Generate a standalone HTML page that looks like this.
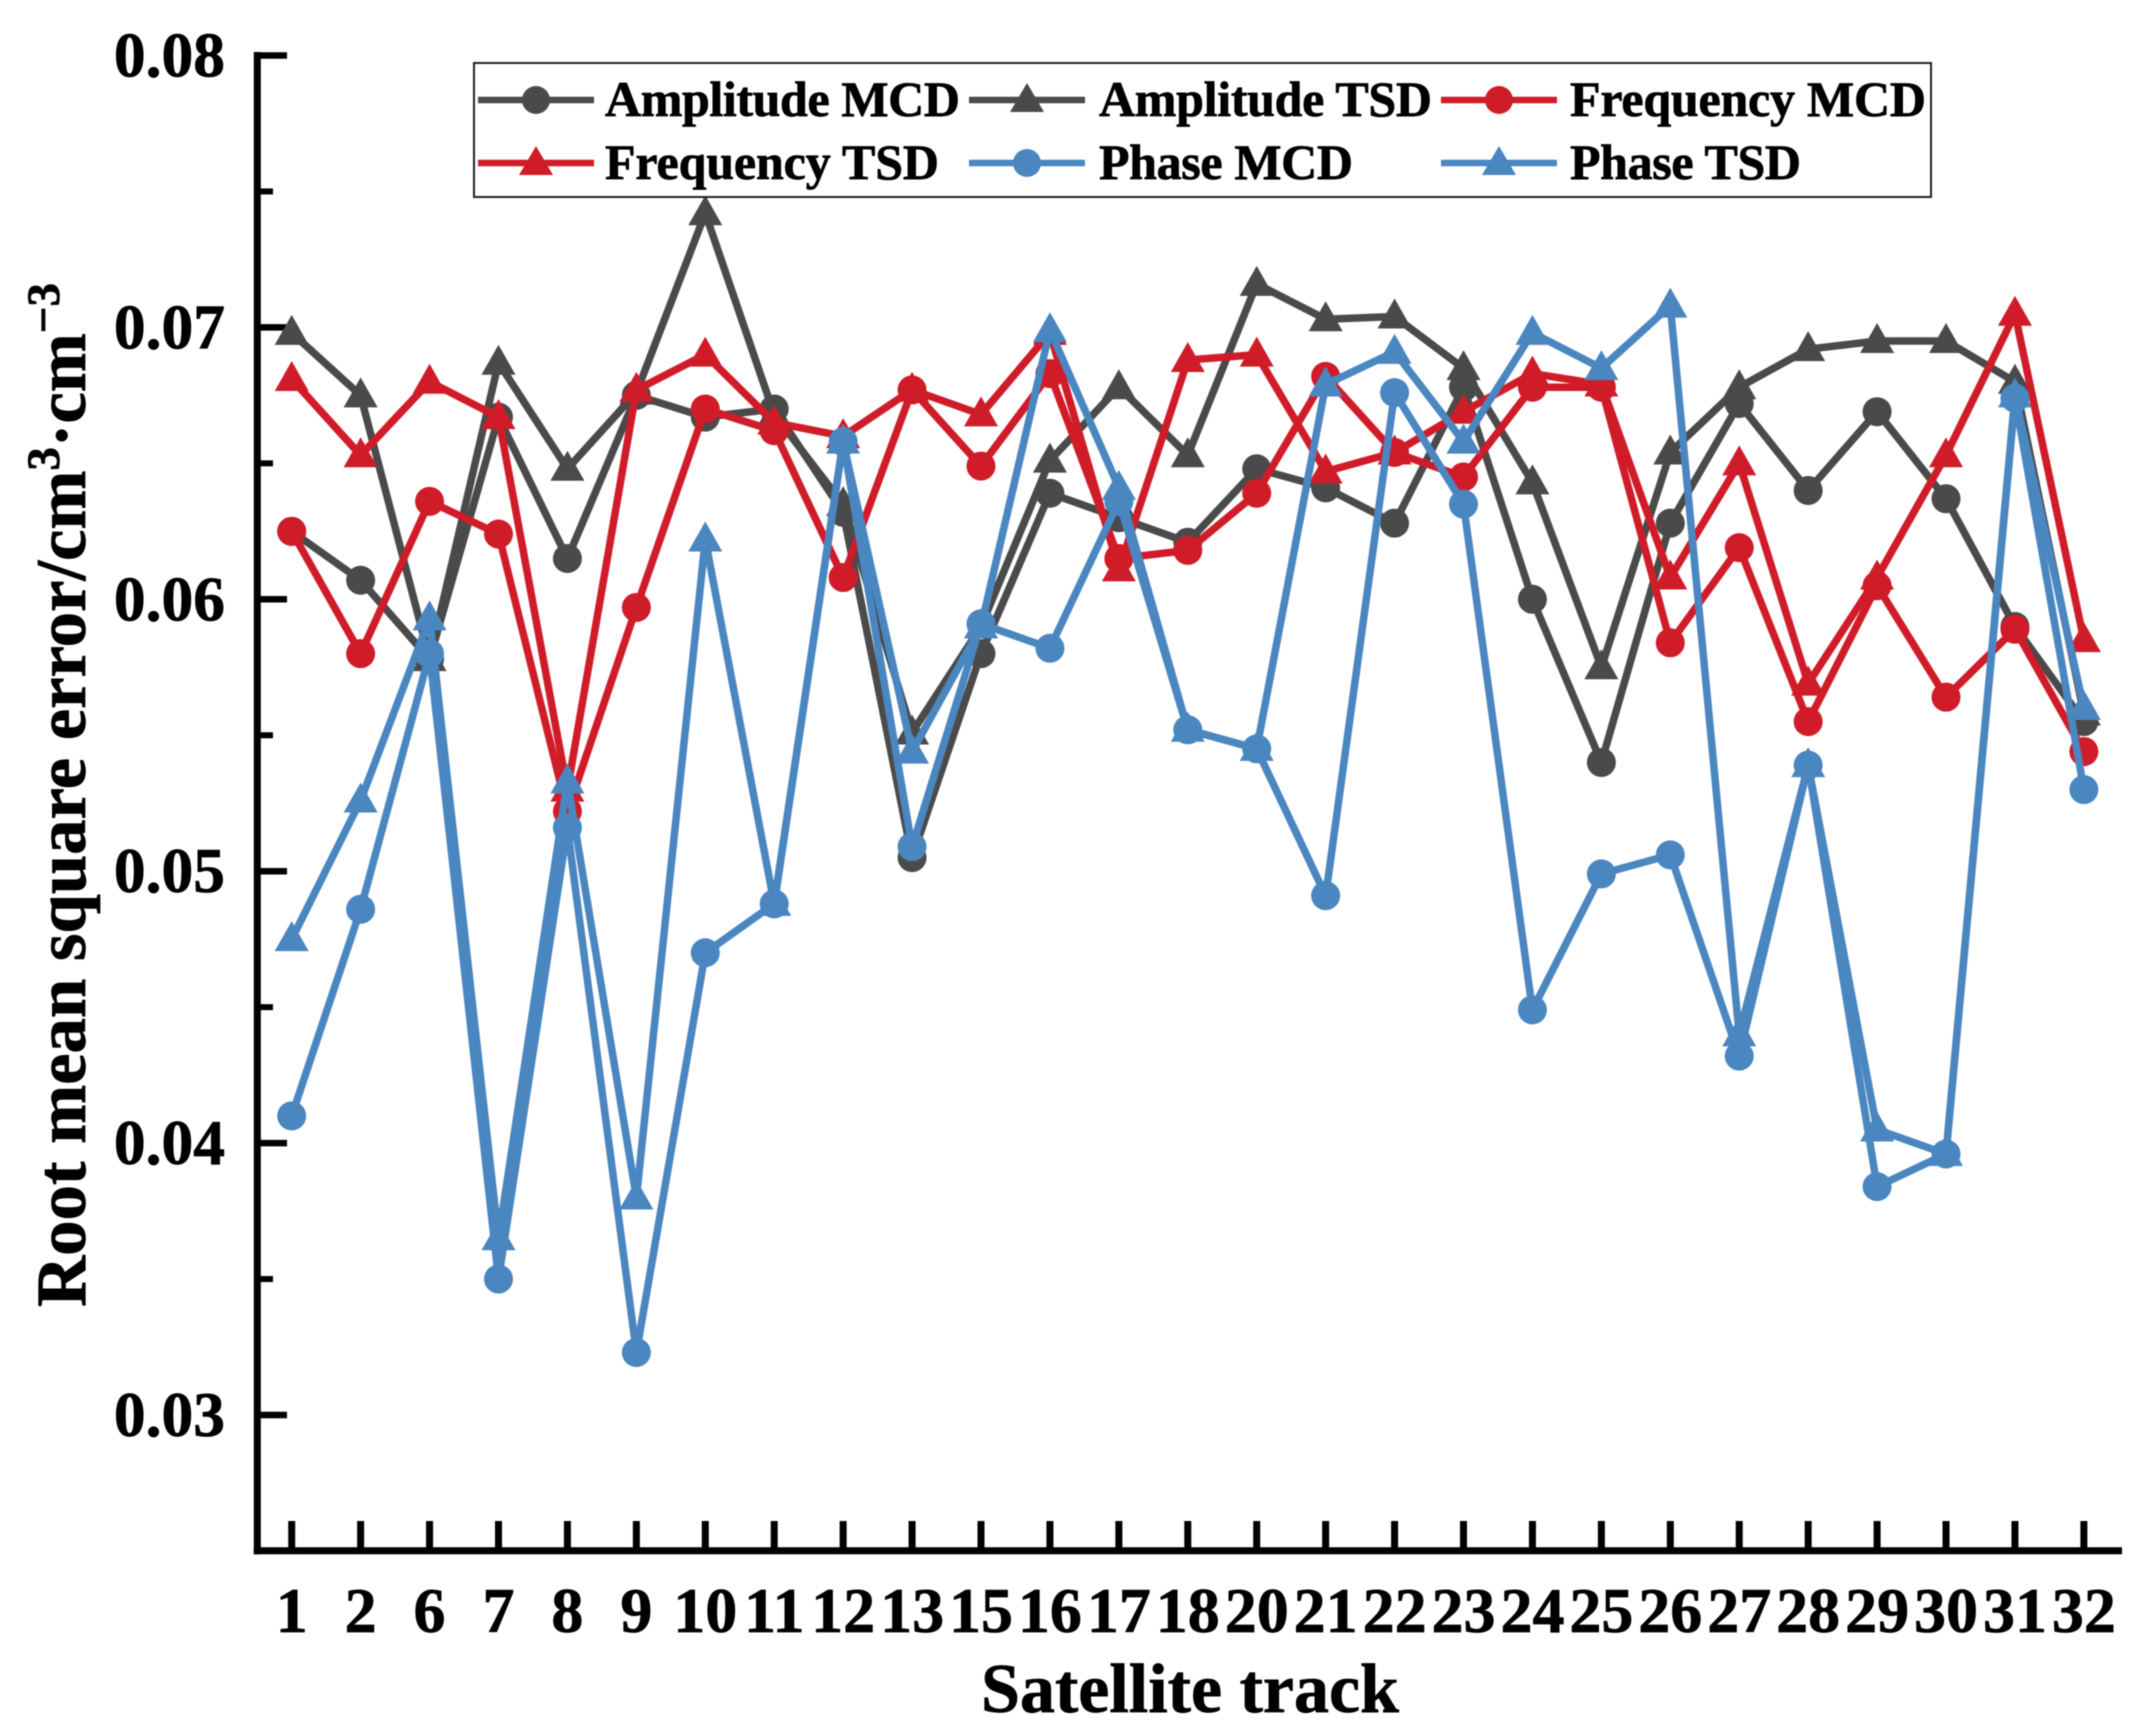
<!DOCTYPE html>
<html lang="en">
<head>
<meta charset="utf-8">
<title>Root mean square error by satellite track</title>
<style>
html,body{margin:0;padding:0;background:#fff;width:2147px;height:1733px;overflow:hidden}
svg{display:block;filter:blur(0.6px)}
text{font-family:"Liberation Serif",serif;font-weight:700;fill:#000;stroke:#000;stroke-width:0.7px}
</style>
</head>
<body>
<svg id="chart" xmlns="http://www.w3.org/2000/svg" width="2147" height="1733" viewBox="0 0 2147 1733">
  <rect x="0" y="0" width="2147" height="1733" fill="#fff"/>
  <g id="axes"></g>
  <g id="series"></g>
  <text transform="translate(85,1307) rotate(-90)" font-size="71" textLength="1024" lengthAdjust="spacing">Root mean square error/cm<tspan dy="-26" font-size="47">3</tspan><tspan dy="26">·cm</tspan><tspan dy="-26" font-size="47">−3</tspan></text>
  <text x="1190" y="1712" text-anchor="middle" font-size="70">Satellite track</text>
  <g>
    <rect x="474" y="63" width="1457" height="134" fill="#fff" stroke="#222" stroke-width="2"/>
    <g>
      <line x1="478" y1="100" x2="594" y2="100" stroke="#4a4a4a" stroke-width="6.5"/>
      <circle cx="536" cy="100" r="14" fill="#4a4a4a"/>
      <text x="605" y="116" font-size="50" textLength="355">Amplitude MCD</text>
    </g>
    <g>
      <line x1="969" y1="100" x2="1085" y2="100" stroke="#4a4a4a" stroke-width="6.5"/>
      <polygon points="1027,83 1044,112 1010,112" fill="#4a4a4a"/>
      <text x="1099" y="116" font-size="50" textLength="333">Amplitude TSD</text>
    </g>
    <g>
      <line x1="1441" y1="100" x2="1557" y2="100" stroke="#d01c29" stroke-width="6.5"/>
      <circle cx="1499" cy="100" r="14" fill="#d01c29"/>
      <text x="1570" y="116" font-size="50" textLength="356">Frequency MCD</text>
    </g>
    <g>
      <line x1="478" y1="163" x2="594" y2="163" stroke="#d01c29" stroke-width="6.5"/>
      <polygon points="536,146 553,175 519,175" fill="#d01c29"/>
      <text x="605" y="179" font-size="50" textLength="334">Frequency TSD</text>
    </g>
    <g>
      <line x1="969" y1="163" x2="1085" y2="163" stroke="#4a86c0" stroke-width="6.5"/>
      <circle cx="1027" cy="163" r="14" fill="#4a86c0"/>
      <text x="1099" y="179" font-size="50" textLength="254">Phase MCD</text>
    </g>
    <g>
      <line x1="1441" y1="163" x2="1557" y2="163" stroke="#4a86c0" stroke-width="6.5"/>
      <polygon points="1499,146 1516,175 1482,175" fill="#4a86c0"/>
      <text x="1570" y="179" font-size="50" textLength="231">Phase TSD</text>
    </g>
  </g>
</svg>
<script>
const categories = ["1","2","6","7","8","9","10","11","12","13","15","16","17","18","20","21","22","23","24","25","26","27","28","29","30","31","32"];
const yTickLabels = ["0.03","0.04","0.05","0.06","0.07","0.08"];
const yTickValues = [0.03,0.04,0.05,0.06,0.07,0.08];
const yMinorValues = [0.035,0.045,0.055,0.065,0.075];
const amplitudeMCD = [0.0625,0.0607,0.0578,0.0667,0.0615,0.0675,0.0667,0.0670,0.0632,0.0505,0.0580,0.0639,0.0630,0.0621,0.0648,0.0641,0.0628,0.0678,0.0600,0.0540,0.0628,0.0672,0.0640,0.0669,0.0637,0.0590,0.0555];
const amplitudeTSD = [0.0698,0.0675,0.0578,0.0687,0.0648,0.0676,0.0742,0.0668,0.0635,0.0551,0.0590,0.0651,0.0678,0.0653,0.0716,0.0703,0.0704,0.0685,0.0643,0.0575,0.0654,0.0678,0.0692,0.0695,0.0695,0.0680,0.0558];
const frequencyMCD = [0.0625,0.0580,0.0636,0.0624,0.0522,0.0597,0.0670,0.0662,0.0608,0.0677,0.0649,0.0683,0.0615,0.0618,0.0639,0.0682,0.0654,0.0645,0.0678,0.0678,0.0584,0.0619,0.0555,0.0605,0.0564,0.0589,0.0544];
const frequencyTSD = [0.0681,0.0653,0.0680,0.0667,0.0530,0.0677,0.0690,0.0665,0.0660,0.0677,0.0668,0.0698,0.0611,0.0688,0.0690,0.0647,0.0654,0.0669,0.0683,0.0679,0.0608,0.0650,0.0569,0.0608,0.0653,0.0705,0.0585];
const phaseMCD = [0.0410,0.0486,0.0580,0.0350,0.0516,0.0323,0.0470,0.0488,0.0658,0.0509,0.0591,0.0582,0.0636,0.0552,0.0545,0.0491,0.0676,0.0635,0.0449,0.0499,0.0506,0.0432,0.0539,0.0384,0.0396,0.0674,0.0530];
const phaseTSD = [0.0475,0.0526,0.0593,0.0365,0.0533,0.0380,0.0622,0.0488,0.0658,0.0544,0.0590,0.0699,0.0641,0.0552,0.0545,0.0679,0.0691,0.0658,0.0698,0.0685,0.0708,0.0440,0.0539,0.0405,0.0396,0.0675,0.0560];

const NS = "http://www.w3.org/2000/svg";
const X0 = 291.7, XSTEP = 68.93;
const Y08 = 55.5, YPER = 27190;
const AXIS_X = 257.3, AXIS_Y = 1550.7, AXIS_RIGHT = 2122;
function xAt(i){ return X0 + XSTEP * i; }
function yAt(v){ return Y08 + (0.08 - v) * YPER; }
function make(tag, attrs, parent){
  const n = document.createElementNS(NS, tag);
  for (const k in attrs) n.setAttribute(k, attrs[k]);
  parent.appendChild(n);
  return n;
}
const axes = document.getElementById("axes");
const seriesRoot = document.getElementById("series");

const yAxisLine = make("line", {x1:AXIS_X,y1:52,x2:AXIS_X,y2:AXIS_Y+3.5,stroke:"#000","stroke-width":7}, axes);


const xAxisLine = make("line", {x1:AXIS_X-3.5,y1:AXIS_Y,x2:AXIS_RIGHT,y2:AXIS_Y,stroke:"#000","stroke-width":7}, axes);



yTickValues.forEach(function(v, i){
  const tick = make("line", {x1:AXIS_X,y1:yAt(v),x2:287,y2:yAt(v),stroke:"#000","stroke-width":6.5}, axes);
  
  
  const label = make("text", {x:225,y:yAt(v)+21,"text-anchor":"end","font-size":63.5}, axes);
  label.textContent = yTickLabels[i];
  
  
});
yMinorValues.forEach(function(v){
  const tick = make("line", {x1:AXIS_X,y1:yAt(v),x2:273,y2:yAt(v),stroke:"#000","stroke-width":6}, axes);
  
  
});
categories.forEach(function(c, i){
  const tick = make("line", {x1:xAt(i),y1:1521,x2:xAt(i),y2:AXIS_Y,stroke:"#000","stroke-width":7}, axes);
  
  
  const label = make("text", {x:xAt(i),y:1632,"text-anchor":"middle","font-size":64}, axes);
  label.textContent = c;
  
  
});

function drawSeries(values, color, shape, name){
  const g = make("g", {}, seriesRoot);
  
  
  const pts = values.map(function(v, i){ return xAt(i).toFixed(1) + "," + yAt(v).toFixed(1); }).join(" ");
  const line = make("polyline", {points:pts,fill:"none",stroke:color,"stroke-width":7.5,"stroke-linejoin":"bevel"}, g);
  
  
  values.forEach(function(v, i){
    const cx = xAt(i), cy = yAt(v);
    let mark;
    if (shape === "circle") {
      mark = make("circle", {cx:cx,cy:cy,r:14.5,fill:color}, g);
    } else {
      const p = cx + "," + (cy-18) + " " + (cx+17) + "," + (cy+12) + " " + (cx-17) + "," + (cy+12);
      mark = make("polygon", {points:p,fill:color}, g);
    }
    
    
  });
}
drawSeries(amplitudeMCD, "#4a4a4a", "circle", "series-amplitude-mcd");
drawSeries(amplitudeTSD, "#4a4a4a", "triangle", "series-amplitude-tsd");
drawSeries(frequencyMCD, "#d01c29", "circle", "series-frequency-mcd");
drawSeries(frequencyTSD, "#d01c29", "triangle", "series-frequency-tsd");
drawSeries(phaseMCD, "#4a86c0", "circle", "series-phase-mcd");
drawSeries(phaseTSD, "#4a86c0", "triangle", "series-phase-tsd");
</script>
</body>
</html>
